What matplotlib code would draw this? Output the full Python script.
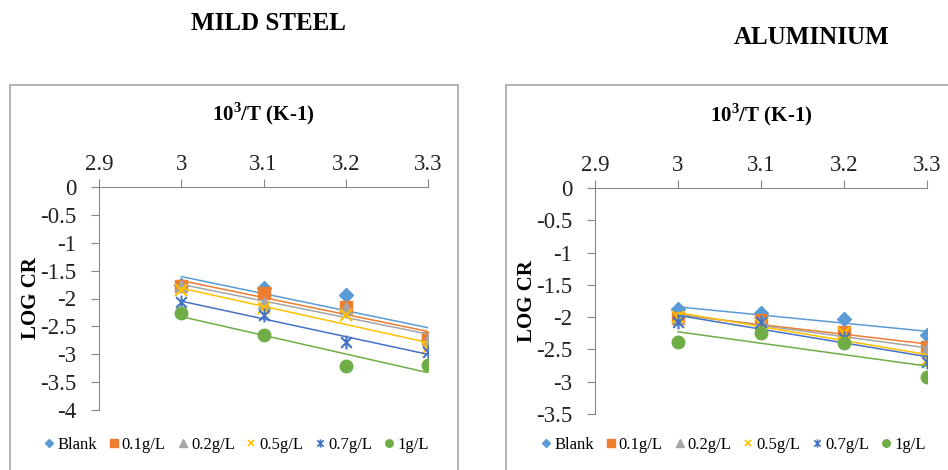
import numpy as np
import matplotlib
matplotlib.use("Agg")
import matplotlib.pyplot as plt
from matplotlib.path import Path
from matplotlib.patches import Rectangle
from matplotlib.lines import Line2D

plt.rcParams['font.family'] = ['Liberation Serif', 'DejaVu Serif']

# 10^3/T values
temps = [3.0, 3.1, 3.2, 3.3]
labels = ["Blank", "0.1g/L", "0.2g/L", "0.5g/L", "0.7g/L", "1g/L"]

# log CR, mild steel
ms_blank = [-1.76, -1.82, -1.94, -2.74]
ms_01 = [-1.78, -1.90, -2.15, -2.71]
ms_02 = [-1.78, -2.08, -2.17, -2.74]
ms_05 = [-1.85, -2.17, -2.30, -2.89]
ms_07 = [-2.06, -2.30, -2.78, -2.96]
ms_1 = [-2.26, -2.65, -3.21, -3.19]

# log CR, aluminium
al_blank = [-1.88, -1.94, -2.03, -2.27]
al_01 = [-2.02, -2.05, -2.23, -2.46]
al_02 = [-2.00, -2.06, -2.30, -2.50]
al_05 = [-2.00, -2.10, -2.25, -2.67]
al_07 = [-2.07, -2.08, -2.32, -2.70]
al_1 = [-2.39, -2.25, -2.40, -2.93]

colors = ["#5B9BD5", "#ED7D31", "#A5A5A5", "#FFC000", "#4472C4", "#70AD47"]

# excel style star marker: x with a vertical bar
star = Path([(-1, -1), (1, 1), (-1, 1), (1, -1), (0, -1.3), (0, 1.3)],
            [Path.MOVETO, Path.LINETO, Path.MOVETO, Path.LINETO, Path.MOVETO, Path.LINETO])
marker_styles = [("D", 7, True), ("s", 8.5, True), ("^", 8.5, True), ("x", 8, False), (star, 10, False), ("o", 9, True)]

fig = plt.figure(figsize=(9.48, 4.70), dpi=100)

# chart frames
fig.patches.append(Rectangle((10 / 948, -0.05), 448 / 948, 1 - 85 / 470 + 0.05, transform=fig.transFigure,
                             fill=False, edgecolor="#A6A6A6", linewidth=1.2))
fig.patches.append(Rectangle((506 / 948, -0.05), 0.6, 1 - 85 / 470 + 0.05, transform=fig.transFigure,
                             fill=False, edgecolor="#A6A6A6", linewidth=1.2))

fig.text(268 / 948, 1 - 23 / 470, "MILD STEEL", ha="center", va="center", fontsize=18, fontweight="bold")
fig.text(812 / 948, 1 - 38 / 470, "ALUMINIUM", ha="center", va="center", fontsize=18, fontweight="bold")


def draw(ax, series, ymin, yticks):
    for ys, c, (m, ms, filled) in zip(series, colors, marker_styles):
        if filled:
            ax.plot(temps, ys, linestyle="none", marker=m, markersize=ms, color=c, markeredgecolor=c)
        else:
            ax.plot(temps, ys, linestyle="none", marker=m, markersize=ms, color=c, markeredgewidth=1.5)
        k, b = np.polyfit(temps, ys, 1)
        xs = np.array([temps[0], temps[-1]])
        ax.plot(xs, k * xs + b, color=c, linewidth=1.1)
    ax.set_xlim(2.9, 3.3)
    ax.set_ylim(ymin, 0)
    ax.set_xticks([2.9, 3.0, 3.1, 3.2, 3.3])
    ax.set_xticklabels(["2.9", "3", "3.1", "3.2", "3.3"])
    ax.set_yticks(yticks)
    ax.set_yticklabels([("%g" % t) for t in yticks])
    ax.xaxis.tick_top()
    ax.xaxis.set_label_position("top")
    ax.spines["bottom"].set_visible(False)
    ax.spines["right"].set_visible(False)
    ax.spines["top"].set_color("#868686")
    ax.spines["left"].set_color("#868686")
    ax.tick_params(axis="both", colors="#868686", labelcolor="#222222", labelsize=16.5, length=5.5, direction="out")
    ax.tick_params(axis="x", pad=3.5)
    ax.tick_params(axis="y", pad=11)
    ax.set_xlabel("10$^{\\mathregular{3}}$/T (K-1)", fontsize=15, fontweight="bold", labelpad=24)
    ax.set_ylabel("LOG CR", fontsize=15, fontweight="bold", labelpad=-1)
    ax.patch.set_alpha(0)


ax1 = fig.add_axes([99 / 948, 1 - 410 / 470, 329 / 948, 223 / 470])
draw(ax1, [ms_blank, ms_01, ms_02, ms_05, ms_07, ms_1], -4, [0, -0.5, -1, -1.5, -2, -2.5, -3, -3.5, -4])

ax2 = fig.add_axes([595 / 948, 1 - 414 / 470, 332 / 948, 226 / 470])
draw(ax2, [al_blank, al_01, al_02, al_05, al_07, al_1], -3.5, [0, -0.5, -1, -1.5, -2, -2.5, -3, -3.5])

handles = []
for c, (m, ms, filled) in zip(colors, marker_styles):
    handles.append(Line2D([], [], linestyle="none", marker=m, markersize=ms * 0.6, color=c,
                          markeredgewidth=1.2 if not filled else 1))

for cx in [237 / 948, 734 / 948]:
    fig.legend(handles, labels, loc="center", bbox_to_anchor=(cx, 1 - 445 / 470), ncol=6, frameon=False,
               fontsize=12, handlelength=0.5, handletextpad=0.25, columnspacing=0.75, borderaxespad=0)

fig.savefig("out.png", dpi=100)
